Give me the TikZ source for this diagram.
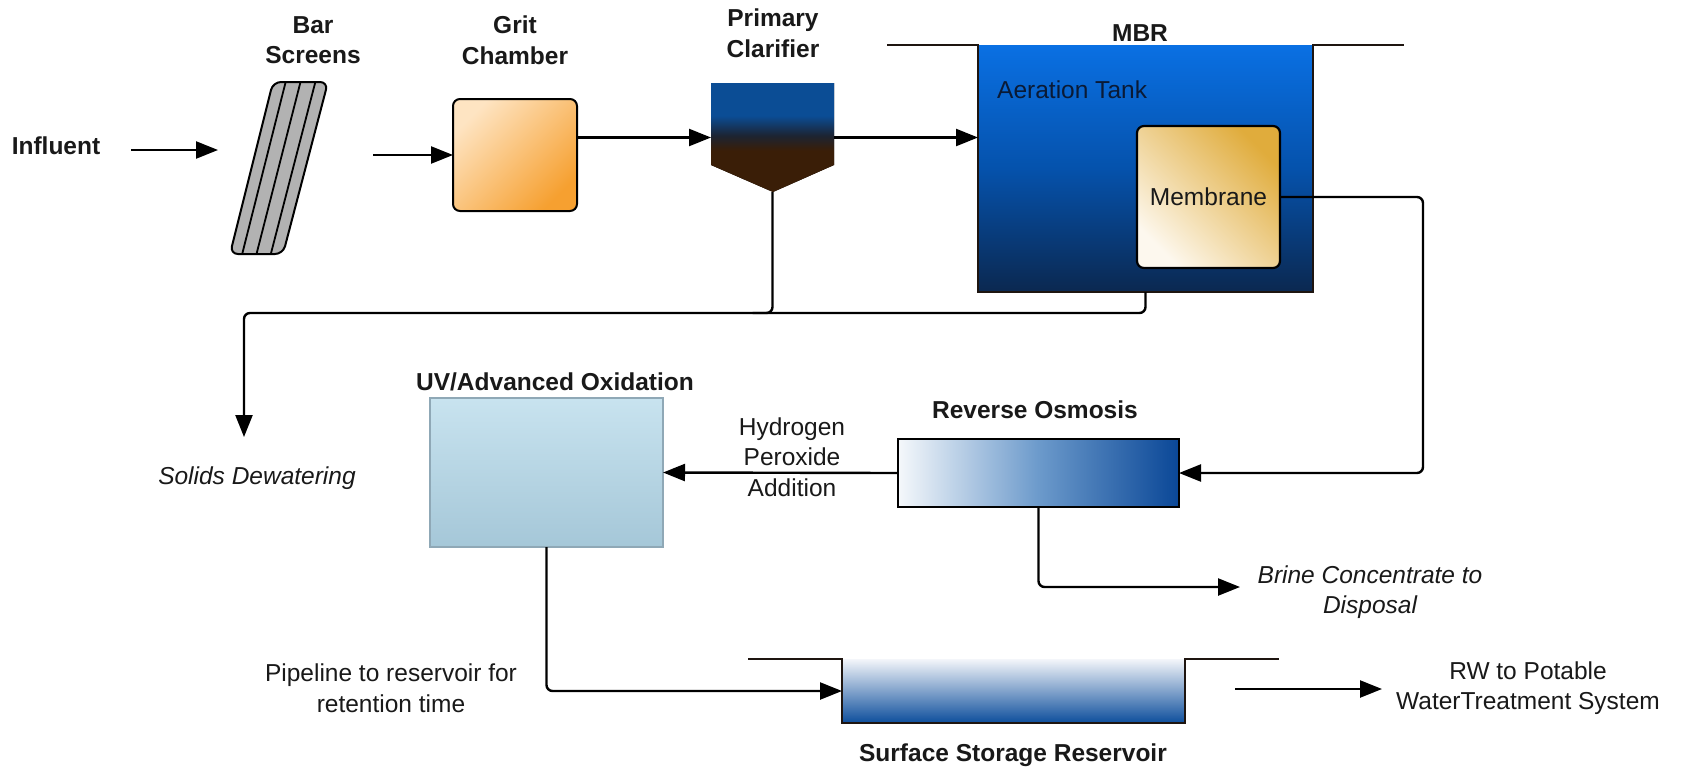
\documentclass[tikz,border=0pt]{standalone}
\usepackage{fontspec}
\setmainfont{Liberation Sans}
\usetikzlibrary{arrows.meta,calc}
\definecolor{gritL}{HTML}{FEE4C2}
\definecolor{gritD}{HTML}{F6A030}
\definecolor{memL}{HTML}{FDF8EE}
\definecolor{memD}{HTML}{E0AC3C}
\definecolor{mbrTop}{HTML}{0A70E3}
\definecolor{mbrMid}{HTML}{0552AC}
\definecolor{mbrBot}{HTML}{0B2850}
\definecolor{uvTop}{HTML}{C8E3EF}
\definecolor{uvBot}{HTML}{A5C7D8}
\definecolor{uvEdge}{HTML}{8FA8B6}
\definecolor{roL}{HTML}{F5F8FB}
\definecolor{roM}{HTML}{6C9ACB}
\definecolor{roR}{HTML}{0A4797}
\definecolor{resTop}{HTML}{F4F6FA}
\definecolor{resBot}{HTML}{0D4E9C}
\definecolor{clBlue}{HTML}{0B4D95}
\definecolor{clDark}{HTML}{1C2433}
\definecolor{clBrown}{HTML}{3A1E07}
\definecolor{barGray}{HTML}{B2B2B2}
\definecolor{aerC}{HTML}{0A1A35}
\definecolor{edgeC}{HTML}{1E1510}
\pgfdeclareverticalshading{clarshade}{100bp}{color(0bp)=(clBrown); color(44bp)=(clBrown); color(51bp)=(clDark); color(60bp)=(clBlue); color(100bp)=(clBlue)}
\begin{document}
\begin{tikzpicture}[x=1pt,y=-1pt,
  txt/.style={font=\fontsize{24.5}{30.5}\selectfont, text=black!90, align=center, inner sep=0pt},
  btxt/.style={txt, font=\fontsize{24.5}{30.5}\selectfont\bfseries},
  itxt/.style={txt, font=\fontsize{24.5}{30.5}\selectfont\itshape},
  conn/.style={line width=2.4pt, draw=black, rounded corners=6pt},
  arr/.style={conn, -{Triangle[length=22pt,width=17pt]}},
  anch/.style 2 args={rectangle, inner sep=0pt, outer sep=0pt, minimum width=#1, minimum height=#2}
]
\useasboundingbox (0,0) rectangle (1681,769);
\fill[white] (0,0) rectangle (1681,769);

% Influent
\node[btxt] (infl) at (56,146) {Influent};
\coordinate (inflA) at (131,150);
\coordinate (inflB) at (218,150);
\draw[arr] (inflA) -- (inflB);

% Bar screens
\node[btxt] (barlbl) at (313,40) {Bar\\Screens};
\draw[line width=2pt, fill=barGray, rounded corners=8pt] (273,82) -- (328,82) -- (283,254) -- (230,254) -- cycle;
\foreach \f in {0.23,0.5,0.77}{
  \draw[line width=1.8pt] ($(273,82)!\f!(328,82)$) -- ($(230,254)!\f!(283,254)$);
}
\node[anch={100pt}{172pt}] (bars) at (278.5,168) {};
\coordinate (barsOut) at (373,155);

% Grit chamber
\node[btxt] (gritlbl) at (515,40) {Grit\\Chamber};
\node[anch={124pt}{112pt}, draw, line width=2pt, rounded corners=7pt, top color=gritL, bottom color=gritD, shading angle=45] (grit) at (515,155) {};
\draw[arr] (barsOut) -- (grit.west);

% Primary clarifier
\node[btxt] (clarlbl) at (773,33) {Primary\\Clarifier};
\fill[shading=clarshade] (711,83) -- (834,83) -- (834,165) -- (773,192) -- (711,165) -- cycle;
\node[anch={123pt}{109pt}] (clar) at (772.5,137.5) {};
\draw[arr] (grit.east |- clar.west) -- (clar.west);

% MBR
\node[btxt] (mbrlbl) at (1140,33) {MBR};
\node[anch={335pt}{247pt}, top color=mbrTop, bottom color=mbrBot, middle color=mbrMid] (mbr) at (1145.5,168.5) {};
\draw[line width=2.4pt, draw=edgeC, line join=miter] (887,45) -- (mbr.north west) -- (mbr.south west) -- (mbr.south east) -- (mbr.north east) -- (1404,45);
\node[txt, anchor=west, text=aerC] (aer) at (997,90) {Aeration Tank};
\node[anch={143pt}{142pt}, draw, line width=2.2pt, rounded corners=7pt, top color=memD, bottom color=memL, shading angle=-45, txt] (mem) at (1208.5,197) {Membrane};
\draw[arr] (clar.east) -- (mbr.west |- clar.east);

% sludge line to solids dewatering
\coordinate (busY) at (0,313);
\coordinate (sdEnd) at (244,437);
\draw[arr] (mbr.south) |- (sdEnd |- busY) -- (sdEnd);
\draw[conn] (clar.south) |- ($(clar.south |- busY)+(-20,0)$);
\node[itxt] (solids) at (257,478) {Solids Dewatering};

% UV / Advanced oxidation
\node[btxt] (uvlbl) at (555,382) {UV/Advanced Oxidation};
\node[anch={233pt}{149pt}, draw=uvEdge, line width=1.5pt, top color=uvTop, bottom color=uvBot] (uv) at (546.5,472.5) {};

% Reverse osmosis
\node[btxt] (rolbl) at (1035,410) {Reverse Osmosis};
\node[anch={281pt}{68pt}, draw, line width=2.4pt, left color=roL, right color=roR, middle color=roM] (ro) at (1038.5,473) {};
\draw[arr] (ro.west) -- (uv.east);
\node[txt] (h2o2) at (792,457) {Hydrogen\\Peroxide\\Addition};

% membrane permeate to RO
\coordinate (memX) at (1423,0);
\draw[arr] (mem.east) -- (mem.east -| memX) -- (ro.east -| memX) -- (ro.east);

% brine
\coordinate (brineEnd) at (1240,587);
\draw[arr] (ro.south) |- (brineEnd);
\node[itxt] (brine) at (1370,592) {Brine Concentrate to\\Disposal};

% reservoir
\node[anch={343pt}{64pt}, top color=resTop, bottom color=resBot] (res) at (1013.5,691) {};
\draw[line width=2.4pt, draw=edgeC, line join=miter] (748,659) -- (res.north west) -- (res.south west) -- (res.south east) -- (res.north east) -- (1279,659);
\node[btxt] (reslbl) at (1013,755) {Surface Storage Reservoir};
\draw[arr] (uv.south) |- (res.west);
\node[txt] (pipe) at (391,688) {Pipeline to reservoir for\\retention time};

% to potable
\coordinate (rwA) at (1235,689);
\coordinate (rwB) at (1382,689);
\draw[arr] (rwA) -- (rwB);
\node[txt] (rw) at (1528,688) {RW to Potable\\WaterTreatment System};
\end{tikzpicture}
\end{document}
